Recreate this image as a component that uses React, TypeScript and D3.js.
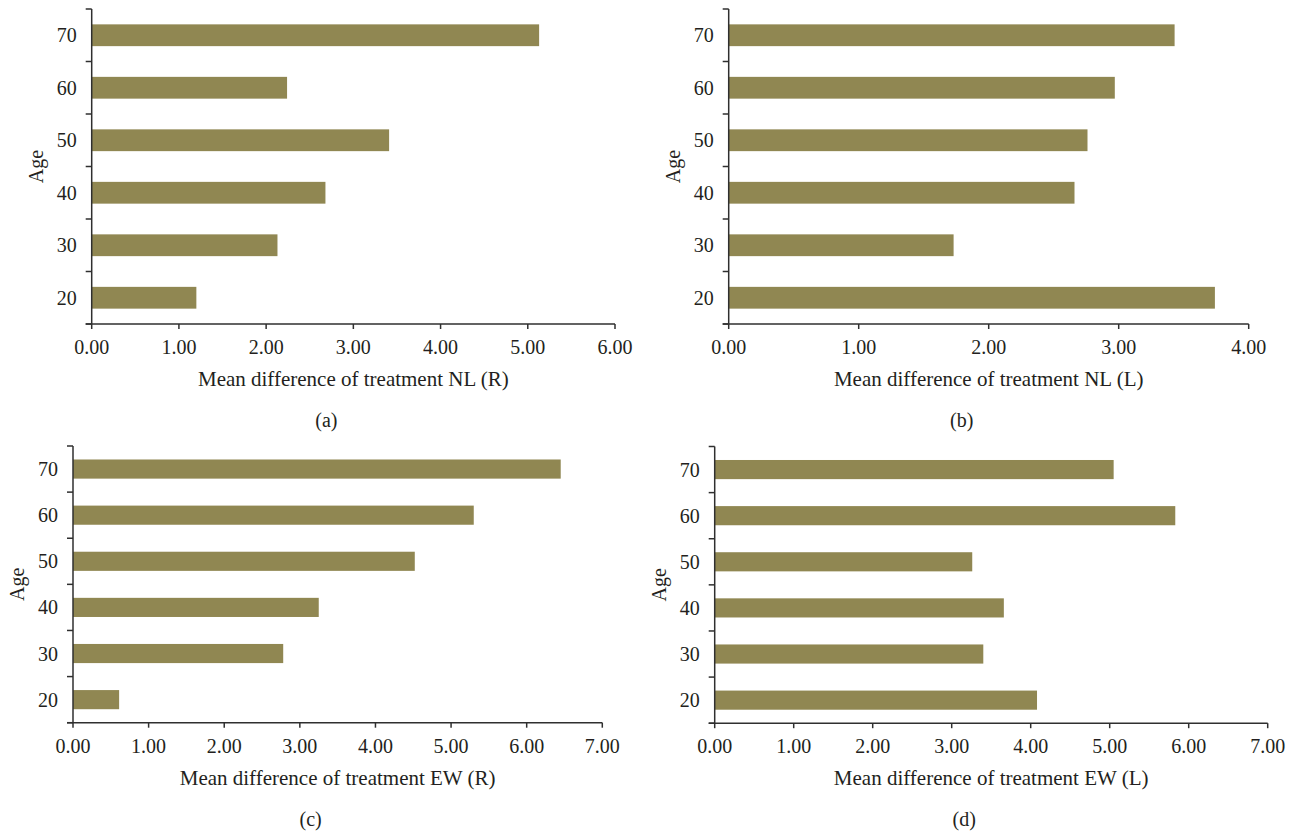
import React from 'react';
import * as d3 from 'd3';

const ages = ['20', '30', '40', '50', '60', '70'];
const nlRight = [1.2, 2.13, 2.68, 3.41, 2.24, 5.13];
const nlLeft = [3.74, 1.73, 2.66, 2.76, 2.97, 3.43];
const ewRight = [0.61, 2.78, 3.25, 4.52, 5.3, 6.45];
const ewLeft = [4.08, 3.4, 3.66, 3.26, 5.83, 5.05];
const nlRightTicks = [0, 1, 2, 3, 4, 5, 6];
const nlLeftTicks = [0, 1, 2, 3, 4];
const ewTicks = [0, 1, 2, 3, 4, 5, 6, 7];
const titles = [
  'Mean difference of treatment NL (R)',
  'Mean difference of treatment NL (L)',
  'Mean difference of treatment EW (R)',
  'Mean difference of treatment EW (L)',
];
const captions = ['(a)', '(b)', '(c)', '(d)'];
const yLabel = 'Age';

const BAR = '#908752';
const AXIS = '#2f2f2f';
const FONT = '"Liberation Serif", "Times New Roman", serif';

type Layout = { x0: number; x1: number; y0: number; y1: number };

const layouts: Layout[] = [
  { x0: 91.7, x1: 615, y0: 9, y1: 324 },
  { x0: 728.7, x1: 1248.7, y0: 9, y1: 324 },
  { x0: 73, x1: 602.3, y0: 446, y1: 722.7 },
  { x0: 714.7, x1: 1267.7, y0: 446.5, y1: 723.2 },
];

const panelData = [
  { values: nlRight, ticks: nlRightTicks, title: titles[0], caption: captions[0] },
  { values: nlLeft, ticks: nlLeftTicks, title: titles[1], caption: captions[1] },
  { values: ewRight, ticks: ewTicks, title: titles[2], caption: captions[2] },
  { values: ewLeft, ticks: ewTicks, title: titles[3], caption: captions[3] },
];

function Panel({ values, ticks, title, caption, layout }: any) {
  const { x0, x1, y0, y1 } = layout;
  const x = d3.scaleLinear().domain([0, d3.max(ticks) as number]).range([x0, x1]);
  const y = d3.scaleBand<string>().domain([...ages].reverse()).range([y0, y1]).padding(0);
  const bw = y.bandwidth();
  const barH = bw * 0.415;
  const boundaries = d3.range(ages.length + 1).map((i) => y0 + i * bw);
  const cx = (x0 + x1) / 2;
  return (
    <g>
      {ages.map((a, i) => (
        <rect
          key={a}
          x={x(0)}
          y={(y(a) as number) + (bw - barH) / 2}
          width={x(values[i]) - x(0)}
          height={barH}
          fill={BAR}
        />
      ))}
      <line x1={x0} x2={x0} y1={y0} y2={y1} stroke={AXIS} strokeWidth={1.5} />
      <line x1={x0 - 6} x2={x1} y1={y1} y2={y1} stroke={AXIS} strokeWidth={1.5} />
      {boundaries.map((b, i) => (
        <line key={'yt' + i} x1={x0 - 6} x2={x0} y1={b} y2={b} stroke={AXIS} strokeWidth={1.5} />
      ))}
      {ticks.map((t: number) => (
        <g key={'xt' + t}>
          <line x1={x(t)} x2={x(t)} y1={y1} y2={y1 + 5} stroke={AXIS} strokeWidth={1.5} />
          <text x={x(t)} y={y1 + 23} textAnchor="middle" dominantBaseline="central" fontSize={20} fontFamily={FONT} fill="#231f20">
            {d3.format('.2f')(t)}
          </text>
        </g>
      ))}
      {ages.map((a) => (
        <text
          key={'yl' + a}
          x={x0 - 15}
          y={(y(a) as number) + bw / 2}
          textAnchor="end"
          dominantBaseline="central"
          fontSize={20}
          fontFamily={FONT}
          fill="#231f20"
        >
          {a}
        </text>
      ))}
      <text
        transform={`translate(${x0 - 56},${(y0 + y1) / 2}) rotate(-90)`}
        textAnchor="middle"
        dominantBaseline="central"
        fontSize={20}
        fontFamily={FONT}
        fill="#231f20"
      >
        {yLabel}
      </text>
      <text x={cx} y={y1 + 55} textAnchor="middle" dominantBaseline="central" fontSize={21} fontFamily={FONT} fill="#231f20">
        {title}
      </text>
      <text x={cx - 27} y={y1 + 96} textAnchor="middle" dominantBaseline="central" fontSize={20} fontFamily={FONT} fill="#231f20">
        {caption}
      </text>
    </g>
  );
}

export default function App() {
  return (
    <svg width={1296} height={833} style={{ position: 'absolute', left: 0, top: 0, background: '#fff' }}>
      {panelData.map((p, i) => (
        <Panel key={i} {...p} layout={layouts[i]} />
      ))}
    </svg>
  );
}
